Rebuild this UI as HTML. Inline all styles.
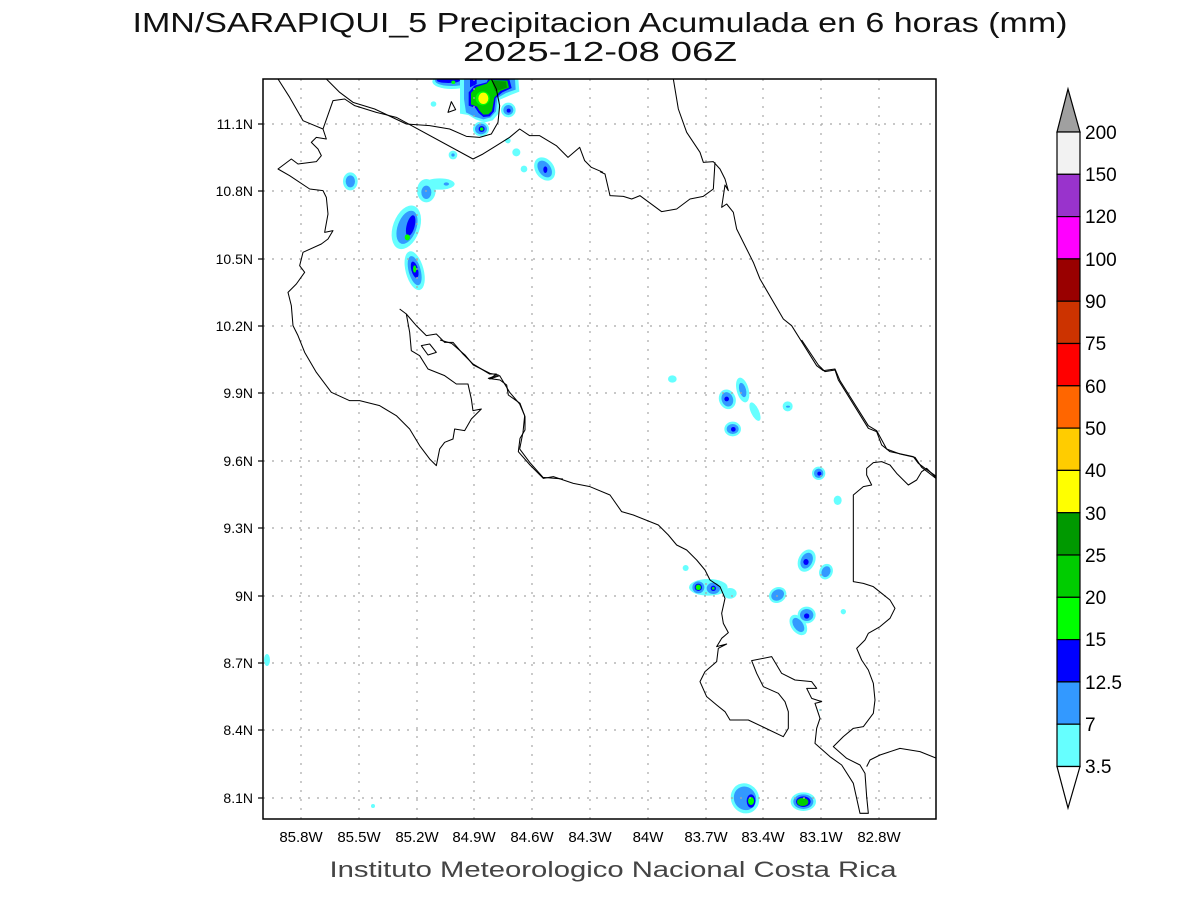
<!DOCTYPE html>
<html><head><meta charset="utf-8"><style>
html,body{margin:0;padding:0;background:#fff;}
svg{display:block;font-family:"Liberation Sans",sans-serif;}
</style></head><body>
<svg width="1200" height="900" viewBox="0 0 1200 900" xmlns="http://www.w3.org/2000/svg">
<rect width="1200" height="900" fill="#fff"/>
<text x="600" y="32" font-size="28" text-anchor="middle" textLength="935" lengthAdjust="spacingAndGlyphs" fill="#111">IMN/SARAPIQUI_5 Precipitacion Acumulada en 6 horas (mm)</text>
<text x="600" y="61" font-size="28" text-anchor="middle" textLength="274" lengthAdjust="spacingAndGlyphs" fill="#111">2025-12-08 06Z</text>
<defs><clipPath id="c"><rect x="263" y="79" width="673" height="740"/></clipPath></defs>
<g clip-path="url(#c)">
<g transform="translate(263,79) scale(0.33333)">
<ellipse cx="262" cy="307" rx="22" ry="27" fill="#66ffff"/><ellipse cx="262" cy="307" rx="14" ry="18" fill="#3399ff"/>
<ellipse cx="490" cy="335" rx="28" ry="35" fill="#66ffff"/><ellipse cx="530" cy="315" rx="45" ry="17" fill="#66ffff"/>
<ellipse cx="490" cy="340" rx="15" ry="20" fill="#3399ff"/><ellipse cx="550" cy="315" rx="8" ry="5" fill="#3399ff"/>
<ellipse cx="430" cy="445" rx="40" ry="68" transform="rotate(20 430 445)" fill="#66ffff"/>
<ellipse cx="432" cy="445" rx="28" ry="52" transform="rotate(20 432 445)" fill="#3399ff"/>
<ellipse cx="443" cy="440" rx="12" ry="32" transform="rotate(15 443 440)" fill="#0000ff"/>
<ellipse cx="433" cy="475" rx="8" ry="9" fill="#00ff00"/>
<ellipse cx="455" cy="575" rx="27" ry="60" transform="rotate(-15 455 575)" fill="#66ffff"/>
<ellipse cx="455" cy="575" rx="18" ry="45" transform="rotate(-15 455 575)" fill="#3399ff"/>
<ellipse cx="455" cy="572" rx="10" ry="25" transform="rotate(-15 455 572)" fill="#0000ff"/>
<ellipse cx="455" cy="570" rx="5" ry="11" fill="#00ff00"/>
<ellipse cx="845" cy="270" rx="28" ry="38" transform="rotate(-35 845 270)" fill="#66ffff"/>
<ellipse cx="845" cy="270" rx="18" ry="28" transform="rotate(-35 845 270)" fill="#3399ff"/>
<ellipse cx="847" cy="272" rx="6" ry="10" fill="#0000ff"/>
<circle cx="512" cy="75" r="8" fill="#66ffff"/>
<circle cx="570" cy="228" r="13" fill="#66ffff"/><circle cx="570" cy="228" r="5" fill="#3399ff"/>
<circle cx="735" cy="185" r="8" fill="#66ffff"/><circle cx="760" cy="220" r="12" fill="#66ffff"/><circle cx="783" cy="270" r="10" fill="#66ffff"/>
</g>
<g transform="translate(420,79) scale(0.33333)">
<ellipse cx="95" cy="8" rx="58" ry="22" fill="#66ffff"/>
<ellipse cx="95" cy="5" rx="50" ry="16" fill="#3399ff"/>
<ellipse cx="85" cy="4" rx="35" ry="8" fill="#0000ff"/>
<ellipse cx="100" cy="10" rx="6" ry="5" fill="#00ff00"/>
<path d="M120,0 L295,0 L298,38 L272,48 L240,62 L237,102 L218,124 L195,130 L168,122 L145,108 L120,104 Z" fill="#66ffff"/>
<path d="M132,0 L285,0 L287,32 L258,42 L232,57 L228,97 L212,115 L190,121 L163,113 L138,100 L132,60 Z" fill="#3399ff"/>
<path d="M150,0 L170,0 L170,15 L150,25 Z" fill="#0000ff"/>
<path d="M205,0 L268,0 L275,27 L247,40 L227,57 L222,97 L209,112 L190,114 L176,102 L166,87 L146,80 L146,40 L163,20 L200,10 Z" fill="#0000ff"/>
<path d="M210,3 L262,5 L267,26 L241,36 L223,56 L216,96 L205,106 L190,107 L179,96 L171,83 L153,76 L153,42 L169,24 L200,14 Z" fill="#00cc00"/>
<path d="M215,5 L258,8 L261,26 L239,33 L225,36 Z" fill="#009900"/>
<ellipse cx="188" cy="58" rx="21" ry="21" fill="#00ff00"/>
<ellipse cx="190" cy="58" rx="15" ry="17" fill="#ffff00"/>
<circle cx="265" cy="93" r="22" fill="#66ffff"/><circle cx="265" cy="93" r="15" fill="#3399ff"/><circle cx="266" cy="95" r="6" fill="#0000ff"/>
<ellipse cx="183" cy="150" rx="24" ry="22" fill="#66ffff"/><ellipse cx="183" cy="150" rx="18" ry="16" fill="#3399ff"/>
<circle cx="185" cy="150" r="9" fill="#0000ff"/><circle cx="185" cy="150" r="5" fill="#00ff00"/>
<circle cx="40" cy="75" r="8" fill="#66ffff"/><circle cx="262" cy="185" r="7" fill="#66ffff"/>
</g>
<g transform="translate(420,340) scale(0.33333)">
<ellipse cx="757" cy="117" rx="13" ry="11" fill="#66ffff"/>
<ellipse cx="922" cy="178" rx="25" ry="30" transform="rotate(-20 922 178)" fill="#66ffff"/>
<ellipse cx="922" cy="178" rx="17" ry="22" transform="rotate(-20 922 178)" fill="#3399ff"/>
<circle cx="920" cy="177" r="7" fill="#0000ff"/>
<ellipse cx="968" cy="150" rx="18" ry="38" transform="rotate(-15 968 150)" fill="#66ffff"/>
<ellipse cx="1005" cy="215" rx="12" ry="30" transform="rotate(-25 1005 215)" fill="#66ffff"/>
<ellipse cx="968" cy="150" rx="10" ry="22" transform="rotate(-15 968 150)" fill="#3399ff"/>
<ellipse cx="938" cy="267" rx="25" ry="22" fill="#66ffff"/><ellipse cx="938" cy="267" rx="18" ry="15" fill="#3399ff"/><circle cx="940" cy="268" r="7" fill="#0000ff"/>
<circle cx="1103" cy="199" r="15" fill="#66ffff"/><ellipse cx="1104" cy="200" rx="6" ry="3" fill="#3399ff"/>
<circle cx="1196" cy="400" r="20" fill="#66ffff"/><circle cx="1196" cy="400" r="14" fill="#3399ff"/><circle cx="1198" cy="401" r="6" fill="#0000ff"/>
<ellipse cx="1253" cy="481" rx="12" ry="14" fill="#66ffff"/>
<ellipse cx="1160" cy="662" rx="25" ry="35" transform="rotate(25 1160 662)" fill="#66ffff"/>
<ellipse cx="1160" cy="662" rx="17" ry="25" transform="rotate(25 1160 662)" fill="#3399ff"/>
<ellipse cx="1158" cy="666" rx="8" ry="9" fill="#0000ff"/>
<ellipse cx="1218" cy="695" rx="20" ry="24" transform="rotate(25 1218 695)" fill="#66ffff"/>
<ellipse cx="1218" cy="695" rx="13" ry="17" transform="rotate(25 1218 695)" fill="#3399ff"/>
<ellipse cx="1073" cy="765" rx="27" ry="23" transform="rotate(-30 1073 765)" fill="#66ffff"/>
<ellipse cx="1073" cy="765" rx="20" ry="16" transform="rotate(-30 1073 765)" fill="#3399ff"/>
<ellipse cx="1135" cy="855" rx="22" ry="34" transform="rotate(-35 1135 855)" fill="#66ffff"/>
<ellipse cx="1160" cy="825" rx="27" ry="25" fill="#66ffff"/>
<ellipse cx="1135" cy="855" rx="14" ry="24" transform="rotate(-35 1135 855)" fill="#3399ff"/>
<ellipse cx="1160" cy="825" rx="20" ry="18" fill="#3399ff"/><circle cx="1160" cy="828" r="8" fill="#0000ff"/>
<circle cx="1270" cy="815" r="8" fill="#66ffff"/>
<circle cx="797" cy="684" r="9" fill="#66ffff"/>
<ellipse cx="865" cy="742" rx="58" ry="25" fill="#66ffff"/><ellipse cx="930" cy="760" rx="20" ry="16" fill="#66ffff"/>
<ellipse cx="835" cy="742" rx="18" ry="18" fill="#3399ff"/><ellipse cx="880" cy="745" rx="20" ry="17" fill="#3399ff"/>
<circle cx="835" cy="742" r="11" fill="#0000ff"/><circle cx="835" cy="742" r="8" fill="#00ff00"/>
<circle cx="880" cy="745" r="8" fill="#0000ff"/><circle cx="880" cy="745" r="4" fill="#00ff00"/>
<ellipse cx="975" cy="1375" rx="42" ry="46" transform="rotate(-25 975 1375)" fill="#66ffff"/>
<ellipse cx="975" cy="1375" rx="33" ry="36" transform="rotate(-25 975 1375)" fill="#3399ff"/>
<ellipse cx="993" cy="1383" rx="13" ry="20" fill="#0000ff"/><ellipse cx="993" cy="1383" rx="9" ry="12" fill="#00ff00"/>
<ellipse cx="1150" cy="1385" rx="38" ry="28" fill="#66ffff"/><ellipse cx="1150" cy="1385" rx="30" ry="22" fill="#3399ff"/>
<ellipse cx="1150" cy="1385" rx="22" ry="16" fill="#0000ff"/><ellipse cx="1148" cy="1386" rx="17" ry="12" fill="#00cc00"/>
<circle cx="1200" cy="1110" r="3" fill="#66ffff"/>
</g>
<ellipse cx="267" cy="660" rx="3" ry="6" fill="#66ffff"/>
<circle cx="373" cy="806" r="2" fill="#66ffff"/>
<g stroke="#a8a8a8" stroke-width="1.2" stroke-dasharray="2,7">
<line x1="301" y1="79" x2="301" y2="819"/><line x1="359" y1="79" x2="359" y2="819"/><line x1="417" y1="79" x2="417" y2="819"/><line x1="474" y1="79" x2="474" y2="819"/><line x1="532" y1="79" x2="532" y2="819"/><line x1="590" y1="79" x2="590" y2="819"/><line x1="648" y1="79" x2="648" y2="819"/><line x1="706" y1="79" x2="706" y2="819"/><line x1="763" y1="79" x2="763" y2="819"/><line x1="821" y1="79" x2="821" y2="819"/><line x1="879" y1="79" x2="879" y2="819"/>
<line x1="263" y1="124" x2="936" y2="124"/><line x1="263" y1="191" x2="936" y2="191"/><line x1="263" y1="259" x2="936" y2="259"/><line x1="263" y1="326" x2="936" y2="326"/><line x1="263" y1="393" x2="936" y2="393"/><line x1="263" y1="461" x2="936" y2="461"/><line x1="263" y1="528" x2="936" y2="528"/><line x1="263" y1="596" x2="936" y2="596"/><line x1="263" y1="663" x2="936" y2="663"/><line x1="263" y1="730" x2="936" y2="730"/><line x1="263" y1="798" x2="936" y2="798"/>
</g>
<g fill="none" stroke="#000" stroke-width="3.1" stroke-linejoin="round" transform="translate(263,79) scale(0.33333)">
<polyline points="45,0 80,55 120,125 180,150 190,180 160,175 145,190 165,210 175,230 160,248 105,255 85,240 45,270 80,290 140,330 180,335 190,355 195,405 185,460 210,455 195,480 175,495 120,520 110,560 125,580 100,615 75,640 85,680 90,740 105,770 125,820 160,880 205,940 260,965 290,965 350,980 400,1010 440,1050 470,1100 500,1140 520,1160 530,1110 545,1090 570,1080 575,1050 605,1055 625,1020 655,990 630,995 625,960 615,915 580,915 545,890 495,870 470,830 445,815 440,760 430,705 410,690"/>
<polyline points="430,705 460,740 490,770 520,765 545,790 570,790 600,825 630,855 680,885 700,885 680,900 710,890 740,940 770,975 785,1010 780,1060 770,1110 800,1150 840,1195 900,1200"/>
<polygon points="475,800 500,795 520,820 495,828"/>
<polyline points="190,0 230,40 270,70 335,90 430,135 500,140 560,150 610,172 650,175 685,165 705,130 710,80 700,30 685,0"/>
<polyline points="180,150 210,65 245,60 275,80 340,100 400,115 630,240 660,225 700,200 740,175 770,150 800,170 830,170 880,200 915,235 950,205 965,245 985,265 1020,280"/>
<polygon points="555,100 565,68 578,92"/>
</g>
<g fill="none" stroke="#000" stroke-width="3.1" stroke-linejoin="round" transform="translate(600,79) scale(0.33333)">
<polyline points="220,0 235,90 260,160 300,220 310,250 340,248 360,270 375,300 385,335 375,318 365,385 380,375 400,400 410,450 430,490 460,550 480,600 550,720 575,740 650,860 670,875 705,870 720,905 805,1040 830,1055 860,1110 900,1125 945,1135 965,1165 1010,1200"/>
<polyline points="0,278 15,285 30,350 70,352 95,360 120,350 185,398 230,390 270,360 310,352 340,330 345,250"/>
</g>
<g fill="none" stroke="#000" stroke-width="3.1" stroke-linejoin="round" transform="translate(420,340) scale(0.33333)">
<polyline points="60,0 95,10 135,45 160,75 210,100 235,105 205,115 240,120 260,135 265,165 300,190 315,230 315,270 300,295 295,335 330,375 370,415 400,410 460,430 510,440 570,465 605,515 640,525 715,555 745,585 770,615 800,630 830,660 855,690 870,720 900,740 915,775 905,820 910,850 925,878 905,895 890,920 920,912 895,925 890,965 855,995 840,1025 860,1070 890,1095 915,1115 930,1140 985,1140 1090,1190 1105,1165 1105,1115 1095,1085 1075,1060 1030,1040 1010,1000 995,962 1055,950 1085,1000 1125,1020 1175,1025 1190,1045 1160,1045 1175,1075 1205,1085 1185,1090 1200,1135 1190,1165 1185,1210 1230,1250 1265,1275 1300,1330 1320,1420 1345,1420 1340,1370 1335,1300 1320,1275 1280,1255 1240,1220 1270,1190 1300,1165 1330,1160 1360,1120 1365,1080 1360,1030 1345,990 1325,960 1310,925 1335,900 1345,880 1380,860 1410,835 1425,805 1410,780 1385,760 1360,740 1330,730 1300,725 1300,465 1330,440 1355,435 1340,405 1340,385 1360,368 1385,365 1410,375 1430,400 1465,435 1490,420 1505,395 1520,385 1550,415"/>
<polyline points="1340,1280 1350,1260 1380,1245 1440,1225 1500,1235 1550,1255"/>
<polyline points="1145,0 1195,75 1215,95 1245,90 1255,120 1345,265 1370,275 1385,315 1410,335 1480,350 1495,370 1515,385 1550,410"/>
</g>
</g>
<rect x="263" y="79" width="673" height="740" fill="none" stroke="#000" stroke-width="1.5"/>
<g stroke="#000" stroke-width="1.2">
<line x1="258" y1="124" x2="263" y2="124"/><line x1="258" y1="191" x2="263" y2="191"/><line x1="258" y1="259" x2="263" y2="259"/><line x1="258" y1="326" x2="263" y2="326"/><line x1="258" y1="393" x2="263" y2="393"/><line x1="258" y1="461" x2="263" y2="461"/><line x1="258" y1="528" x2="263" y2="528"/><line x1="258" y1="596" x2="263" y2="596"/><line x1="258" y1="663" x2="263" y2="663"/><line x1="258" y1="730" x2="263" y2="730"/><line x1="258" y1="798" x2="263" y2="798"/>
</g>
<g font-size="14" text-anchor="end" fill="#000">
<text x="253" y="129">11.1N</text><text x="253" y="196">10.8N</text><text x="253" y="264">10.5N</text><text x="253" y="331">10.2N</text><text x="253" y="398">9.9N</text><text x="253" y="466">9.6N</text><text x="253" y="533">9.3N</text><text x="253" y="601">9N</text><text x="253" y="668">8.7N</text><text x="253" y="735">8.4N</text><text x="253" y="803">8.1N</text>
</g>
<g font-size="15" text-anchor="middle" fill="#000">
<text x="301" y="842">85.8W</text><text x="359" y="842">85.5W</text><text x="417" y="842">85.2W</text><text x="474" y="842">84.9W</text><text x="532" y="842">84.6W</text><text x="590" y="842">84.3W</text><text x="648" y="842">84W</text><text x="706" y="842">83.7W</text><text x="763" y="842">83.4W</text><text x="821" y="842">83.1W</text><text x="879" y="842">82.8W</text>
</g>
<text x="613" y="877" font-size="22" text-anchor="middle" textLength="567" lengthAdjust="spacingAndGlyphs" fill="#444">Instituto Meteorologico Nacional Costa Rica</text>
<g stroke="#000" stroke-width="1.2">
<polygon points="1057,132 1068,89 1080,132" fill="#a0a0a0"/>
<rect x="1057" y="132" width="23" height="42.3" fill="#f2f2f2"/>
<rect x="1057" y="174.3" width="23" height="42.3" fill="#9933cc"/>
<rect x="1057" y="216.6" width="23" height="42.3" fill="#ff00ff"/>
<rect x="1057" y="258.9" width="23" height="42.3" fill="#990000"/>
<rect x="1057" y="301.2" width="23" height="42.3" fill="#cc3300"/>
<rect x="1057" y="343.5" width="23" height="42.3" fill="#ff0000"/>
<rect x="1057" y="385.8" width="23" height="42.3" fill="#ff6600"/>
<rect x="1057" y="428.1" width="23" height="42.3" fill="#ffcc00"/>
<rect x="1057" y="470.4" width="23" height="42.3" fill="#ffff00"/>
<rect x="1057" y="512.7" width="23" height="42.3" fill="#009900"/>
<rect x="1057" y="555" width="23" height="42.3" fill="#00cc00"/>
<rect x="1057" y="597.3" width="23" height="42.3" fill="#00ff00"/>
<rect x="1057" y="639.6" width="23" height="42.3" fill="#0000ff"/>
<rect x="1057" y="681.9" width="23" height="42.3" fill="#3399ff"/>
<rect x="1057" y="724.2" width="23" height="42.3" fill="#66ffff"/>
<polygon points="1057,766.5 1068,808 1080,766.5" fill="#fff"/>
</g>
<g font-size="19" fill="#000">
<text x="1085" y="139">200</text><text x="1085" y="181">150</text><text x="1085" y="223">120</text><text x="1085" y="266">100</text><text x="1085" y="308">90</text><text x="1085" y="350">75</text><text x="1085" y="393">60</text><text x="1085" y="435">50</text><text x="1085" y="477">40</text><text x="1085" y="520">30</text><text x="1085" y="562">25</text><text x="1085" y="604">20</text><text x="1085" y="646">15</text><text x="1085" y="689">12.5</text><text x="1085" y="731">7</text><text x="1085" y="773">3.5</text>
</g>
</svg>
</body></html>
